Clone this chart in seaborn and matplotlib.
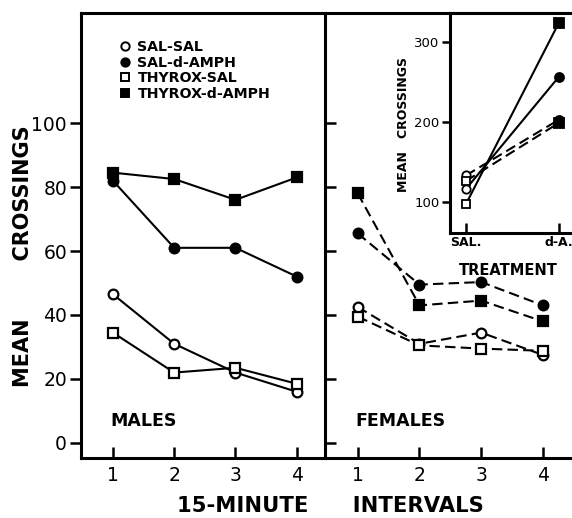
import numpy as np
import pandas as pd
import matplotlib
matplotlib.use("Agg")
import matplotlib.pyplot as plt
from matplotlib.lines import Line2D
import seaborn as sns

sns.set_theme(style="white")
plt.rcParams['font.family'] = ['DejaVu Sans']
plt.rcParams.update({"text.color": "black", "axes.labelcolor": "black",
                     "xtick.color": "black", "ytick.color": "black"})

# ---------------- data ----------------
intervals = [1, 2, 3, 4]
groups = ["SAL-SAL", "SAL-d-AMPH", "THYROX-SAL", "THYROX-d-AMPH"]
males_sal_sal = [46.5, 31, 22, 16]
males_sal_amph = [82, 61, 61, 52]
males_thy_sal = [34.5, 22, 23.5, 18.5]
males_thy_amph = [84.5, 82.5, 76, 83]
females_sal_sal = [42.5, 31, 34.5, 27.5]
females_sal_amph = [65.5, 49.5, 50.3, 43]
females_thy_sal = [39.5, 30.5, 29.5, 28.8]
females_thy_amph = [78, 43, 44.5, 38]

treatments = ["SAL.", "d-A."]
inset_male_sal = [116, 257]
inset_male_thy = [97, 325]
inset_female_sal = [133, 203]
inset_female_thy = [126, 199]

# ---------------- figure ----------------
W, H = 572, 518
fig = plt.figure(figsize=(W / 100, H / 100), dpi=100)

def fx(px):
    return px / W

def fy(py):
    return 1 - py / H

ax_m = fig.add_axes([fx(81), fy(458), fx(325) - fx(81), fy(13) - fy(458)])
ax_f = fig.add_axes([fx(325), fy(458), fx(572) - fx(325), fy(13) - fy(458)])

styles = {
    "SAL-SAL": dict(marker="o", mfc="white", ms=7),
    "SAL-d-AMPH": dict(marker="o", mfc="black", ms=7),
    "THYROX-SAL": dict(marker="s", mfc="white", ms=7.5),
    "THYROX-d-AMPH": dict(marker="s", mfc="black", ms=7.5),
}

male_data = dict(zip(groups, [males_sal_sal, males_sal_amph, males_thy_sal, males_thy_amph]))
female_data = dict(zip(groups, [females_sal_sal, females_sal_amph, females_thy_sal, females_thy_amph]))

for ax, data, ls in [(ax_m, male_data, "-"), (ax_f, female_data, (0, (5, 2.5)))]:
    for g in groups:
        st = styles[g]
        sns.lineplot(x=intervals, y=data[g], ax=ax, color="black", lw=1.5,
                     linestyle=ls, marker=st["marker"], markerfacecolor=st["mfc"],
                     markeredgecolor="black", markeredgewidth=1.6,
                     markersize=st["ms"], legend=False)
    ax.set_ylim(-4.7, 134.4)
    ax.set_yticks([0, 20, 40, 60, 80, 100])
    ax.set_xticks(intervals)
    ax.set_xticklabels([str(i) for i in intervals])
    ax.set_facecolor("white")
    for s in ax.spines.values():
        s.set_linewidth(2.2)
        s.set_color("black")

ax_m.set_xlim(0.48, 4.46)
ax_f.set_xlim(0.47, 4.47)
ax_m.spines["right"].set_visible(False)
ax_f.spines["right"].set_visible(False)

ax_m.tick_params(axis="y", direction="out", length=8, width=1.8, labelsize=13.5,
                 left=True, pad=2)
ax_m.tick_params(axis="x", direction="in", length=8, width=1.8, labelsize=13.5,
                 bottom=True, pad=6)
ax_f.tick_params(axis="y", direction="in", length=8, width=1.8, left=True,
                 labelleft=False)
ax_f.tick_params(axis="x", direction="in", length=8, width=1.8, labelsize=13.5,
                 bottom=True, pad=6)
ax_f.set_ylabel("")
ax_m.set_xlabel("")
ax_f.set_xlabel("")

ax_m.set_ylabel("MEAN        CROSSINGS", fontsize=15, fontweight="bold")
ax_m.yaxis.set_label_coords(-0.197, 0.454)

ax_m.text(0.119, 0.083, "MALES", transform=ax_m.transAxes, fontsize=12.5,
          fontweight="bold", va="center", ha="left")
ax_f.text(0.121, 0.083, "FEMALES", transform=ax_f.transAxes, fontsize=12.5,
          fontweight="bold", va="center", ha="left")

fig.text(fx(330), fy(506), "15-MINUTE      INTERVALS", fontsize=15.2,
         fontweight="bold", ha="center", va="center")

# legend
handles = [Line2D([], [], linestyle="none", marker=styles[g]["marker"],
                  markerfacecolor=styles[g]["mfc"], markeredgecolor="black",
                  markeredgewidth=1.4, markersize=6) for g in groups]
leg = ax_m.legend(handles, groups, loc="upper left",
                  bbox_to_anchor=((119 - 81) / 244, (458 - 40) / 445),
                  frameon=False, handlelength=0.8, handletextpad=0.5,
                  labelspacing=0.12, borderpad=0, borderaxespad=0,
                  prop=dict(size=10.2, weight="bold"))

# inset
ax_i = fig.add_axes([fx(450), fy(233), fx(572) - fx(450), fy(13) - fy(233)])
ax_i.set_facecolor("white")
inset_series = [
    (inset_male_thy, "s", "-"),
    (inset_male_sal, "o", "-"),
    (inset_female_sal, "o", (0, (5, 2.5))),
    (inset_female_thy, "s", (0, (5, 2.5))),
]
xi = [0, 1]
for vals, mk, ls in inset_series:
    sns.lineplot(x=xi, y=vals, ax=ax_i, color="black", lw=1.5, linestyle=ls,
                 legend=False)
    ax_i.plot([0], [vals[0]], marker=mk, mfc="white", mec="black", mew=1.3,
              ms=6, linestyle="none")
    ax_i.plot([1], [vals[1]], marker=mk, mfc="black", mec="black", mew=1.3,
              ms=6.5, linestyle="none")
ax_i.set_xlim(-0.172, 1.14)
ax_i.set_ylim(60.6, 337)
ax_i.set_yticks([100, 200, 300])
ax_i.set_xticks(xi)
ax_i.set_xticklabels(treatments, fontweight="bold")
for s in ax_i.spines.values():
    s.set_linewidth(2.2)
    s.set_color("black")
ax_i.spines["right"].set_visible(False)
ax_i.tick_params(axis="y", direction="out", length=6, width=1.8, labelsize=9.5,
                 left=True, pad=1.5)
ax_i.tick_params(axis="x", direction="in", length=7, width=1.8, labelsize=9,
                 bottom=True, pad=2)
ax_i.set_ylabel("MEAN   CROSSINGS", fontsize=9, fontweight="bold")
ax_i.yaxis.set_label_coords(-0.33, 0.495)
ax_i.set_xlabel("TREATMENT", fontsize=10.5, fontweight="bold")
ax_i.xaxis.set_label_coords(0.475, -0.135)

fig.savefig("out.png", dpi=100, facecolor="white")
